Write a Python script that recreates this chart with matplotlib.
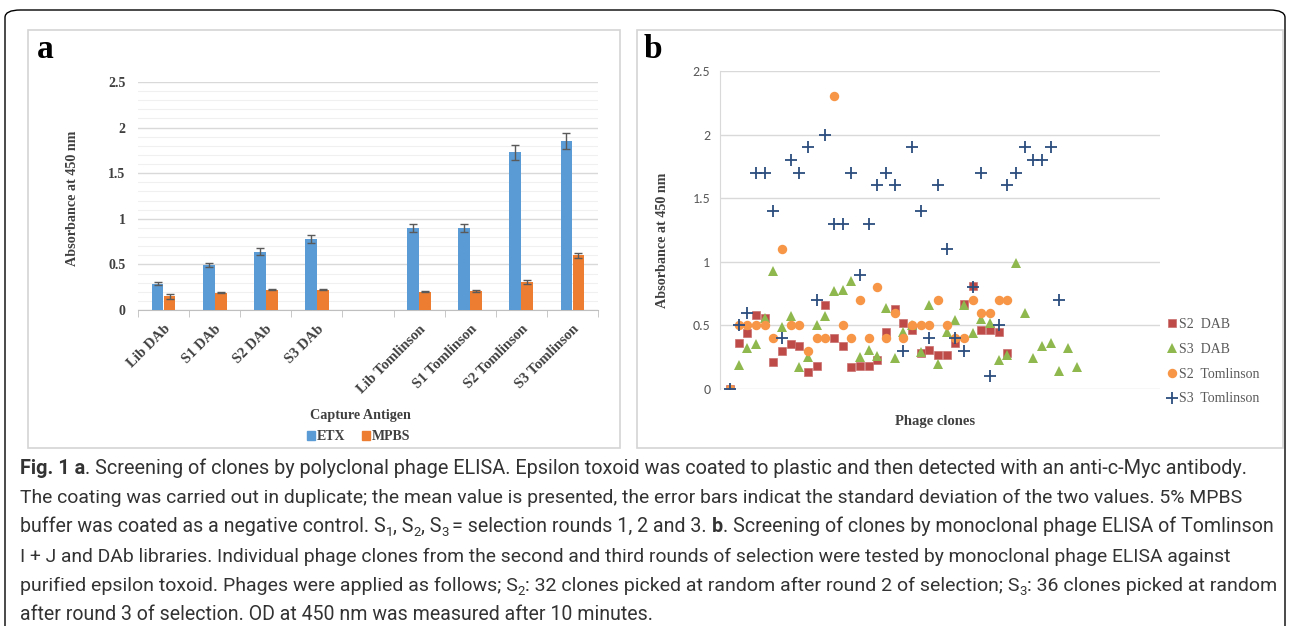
import numpy as np
import matplotlib
matplotlib.use('Agg')
import matplotlib.pyplot as plt
from matplotlib.patches import Rectangle, FancyBboxPatch, Patch
from matplotlib.ticker import FuncFormatter, MultipleLocator
from matplotlib import font_manager

W, H = 1290, 626


def have_font(name):
    try:
        font_manager.findfont(name, fallback_to_default=False)
        return True
    except Exception:
        return False


SERIF = 'Liberation Serif'
TICK_SANS = 'Carlito' if have_font('Carlito') else 'Liberation Sans'
CAP_FONT = 'Liberation Sans Narrow' if have_font('Liberation Sans Narrow') else 'Roboto'

# ---- panel a data
categories = ['Lib DAb', 'S1 DAb', 'S2 DAb', 'S3 DAb', '',
              'Lib Tomlinson', 'S1 Tomlinson', 'S2 Tomlinson', 'S3 Tomlinson']
etx = [0.29, 0.49, 0.64, 0.78, np.nan, 0.90, 0.90, 1.73, 1.85]
etx_err = [0.02, 0.02, 0.035, 0.045, np.nan, 0.045, 0.045, 0.08, 0.09]
mpbs = [0.15, 0.19, 0.22, 0.22, np.nan, 0.20, 0.21, 0.31, 0.60]
mpbs_err = [0.025, 0.005, 0.005, 0.005, np.nan, 0.005, 0.01, 0.02, 0.03]

# ---- panel b data (clone index = position in list)
s2_dab = [0, 0.36, 0.44, 0.58, 0.56, 0.21, 0.30, 0.35, 0.34, 0.13, 0.18,
          0.66, 0.40, 0.34, 0.17, 0.18, 0.18, 0.23, 0.45, 0.63, 0.52,
          0.46, 0.28, 0.31, 0.27, 0.27, 0.36, 0.67, 0.81, 0.46, 0.46,
          0.45, 0.28]
s3_dab = [0, 0.19, 0.32, 0.35, 0.56, 0.93, 0.49, 0.57, 0.17, 0.25, 0.50,
          0.57, 0.77, 0.78, 0.85, 0.25, 0.31, 0.26, 0.64, 0.24, 0.45,
          0.50, 0.29, 0.66, 0.20, 0.45, 0.54, 0.66, 0.44, 0.55, 0.52,
          0.23, 0.27, 0.99, 0.60, 0.24, 0.34, 0.36, 0.14, 0.32, 0.17]
s2_tom = [0, 0.5, 0.5, 0.5, 0.5, 0.4, 1.1, 0.5, 0.5, 0.3, 0.4,
          0.4, 2.3, 0.5, 0.4, 0.7, 0.4, 0.8, 0.4, 0.6, 0.4,
          0.5, 0.5, 0.5, 0.7, 0.5, 0.4, 0.4, 0.7, 0.6, 0.6,
          0.7, 0.7]
s3_tom = [0, 0.5, 0.6, 1.7, 1.7, 1.4, 0.4, 1.8, 1.7, 1.9, 0.7,
          2.0, 1.3, 1.3, 1.7, 0.9, 1.3, 1.6, 1.7, 1.6, 0.3,
          1.9, 1.4, 0.4, 1.6, 1.1, 0.4, 0.3, 0.8, 1.7, 0.1,
          0.5, 1.6, 1.7, 1.9, 1.8, 1.8, 1.9, 0.7]


def fx(x):
    return x / W


def fy(y):
    return 1 - y / H


fig = plt.figure(figsize=(W / 100, H / 100), dpi=100)
fig.patch.set_facecolor('white')

# outer rounded border and panel frames
fig.patches.append(FancyBboxPatch((fx(5), fy(680)), fx(1280), (680 - 10) / H,
                                  boxstyle='round,pad=0,rounding_size=0.012',
                                  transform=fig.transFigure, fill=False,
                                  edgecolor='black', lw=1.0))
for (x0, x1) in [(28, 620), (637, 1283)]:
    fig.patches.append(Rectangle((fx(x0), fy(448)), fx(x1 - x0), (448 - 30) / H,
                                 transform=fig.transFigure, fill=False,
                                 edgecolor='#D4D4D4', lw=1.2))

# ================= panel a =================
ax = fig.add_axes([fx(138), fy(310), (598 - 138) / W, (310 - 82) / H])
x = np.arange(len(categories))
bw = 0.23
ax.bar(x - 0.118, etx, bw, color='#5B9BD5', zorder=3)
ax.bar(x + 0.118, mpbs, bw, color='#ED7D31', zorder=3)
ax.errorbar(x - 0.118, etx, yerr=etx_err, fmt='none', ecolor='#5A5A5A',
            elinewidth=1, capsize=3, capthick=1, zorder=4)
ax.errorbar(x + 0.118, mpbs, yerr=mpbs_err, fmt='none', ecolor='#5A5A5A',
            elinewidth=1, capsize=3, capthick=1, zorder=4)
ax.set_xlim(-0.5, len(categories) - 0.5)
ax.set_ylim(0, 2.5)
ax.yaxis.set_major_locator(MultipleLocator(0.5))
ax.yaxis.set_minor_locator(MultipleLocator(0.1))
ax.yaxis.set_major_formatter(FuncFormatter(lambda v, p: '%g' % v))
ax.grid(which='major', axis='y', color='#D9D9D9', lw=1.0, zorder=0)
ax.grid(which='minor', axis='y', color='#F0F0F0', lw=0.8, zorder=0)
ax.set_axisbelow(True)
for s in ['top', 'right', 'left']:
    ax.spines[s].set_visible(False)
ax.spines['bottom'].set_color('#BFBFBF')
ax.set_xticks(x)
ax.set_xticks(np.arange(-0.5, len(categories)), minor=True)
ax.tick_params(axis='x', which='major', length=0, pad=9)
ax.tick_params(axis='x', which='minor', length=5, color='#BFBFBF')
ax.tick_params(axis='y', which='both', length=0, pad=9)
ax.set_xticklabels(categories, rotation=45, ha='right', va='top',
                   rotation_mode='anchor', family=SERIF, fontweight='bold',
                   fontsize=10.5, color='#404040')
for lab in ax.get_yticklabels():
    lab.set_family(SERIF)
    lab.set_fontweight('bold')
    lab.set_fontsize(10)
    lab.set_color('#404040')

fig.text(fx(72), fy(198), 'Absorbance at 450 nm', rotation=90, ha='center',
         va='center', family=SERIF, fontweight='bold', fontsize=10.2, color='#404040')
fig.text(fx(360), fy(416), 'Capture Antigen', ha='center', va='center',
         family=SERIF, fontweight='bold', fontsize=10.2, color='#404040')
fig.legend([Patch(color='#5B9BD5'), Patch(color='#ED7D31')], ['ETX', 'MPBS'],
           loc='center', bbox_to_anchor=(fx(359), fy(437)), ncol=2, frameon=False,
           handlelength=0.55, handleheight=0.55, handletextpad=0.15,
           columnspacing=1.2, borderpad=0,
           prop={'family': SERIF, 'weight': 'bold', 'size': 10},
           labelcolor='#404040')
fig.text(fx(37), fy(50), 'a', ha='left', va='center', family=SERIF,
         fontweight='bold', fontsize=24, color='black')

# ================= panel b =================
bx = fig.add_axes([fx(720), fy(389), (1160 - 720) / W, (389 - 71) / H])
px_per = 8.667
bx.set_xlim(-10 / px_per, (1160 - 730) / px_per)
bx.set_ylim(0, 2.5)
bx.plot(np.arange(len(s2_dab)), s2_dab, 's', color='#BE4B48', ms=6.3,
        mec='#C9706D', mew=0.5, zorder=3, label='S2  DAB')
bx.plot(np.arange(len(s3_dab)), s3_dab, '^', color='#8FB84F', ms=7.3,
        mew=0, zorder=4, label='S3  DAB')
bx.plot(np.arange(len(s2_tom)), s2_tom, 'o', color='#F79646', ms=6.8,
        mew=0, zorder=5, label='S2  Tomlinson')
bx.plot(np.arange(len(s3_tom)), s3_tom, '+', color='#2C4D7E', ms=9,
        mew=1.3, zorder=6, label='S3  Tomlinson')
bx.yaxis.set_major_locator(MultipleLocator(0.5))
bx.yaxis.set_major_formatter(FuncFormatter(lambda v, p: '%g' % v))
bx.grid(axis='y', color='#D9D9D9', lw=1.0, zorder=0)
bx.set_axisbelow(True)
for s in ['top', 'right', 'bottom']:
    bx.spines[s].set_visible(False)
bx.spines['left'].set_color('#D9D9D9')
bx.set_xticks([])
bx.tick_params(axis='y', length=0, pad=7, labelsize=10, labelcolor='#595959')
for lab in bx.get_yticklabels():
    lab.set_family(TICK_SANS)

fig.text(fx(662), fy(240), 'Absorbance at 450 nm', rotation=90, ha='center',
         va='center', family=SERIF, fontweight='bold', fontsize=10.2, color='#404040')
fig.text(fx(935), fy(421), 'Phage clones', ha='center', va='center',
         family=SERIF, fontweight='bold', fontsize=10.5, color='#404040')
h, l = bx.get_legend_handles_labels()
fig.legend(h, l, loc='upper left', bbox_to_anchor=(fx(1160), fy(311)),
           frameon=False, handlelength=0.7, handletextpad=0.15, labelspacing=0.85,
           borderpad=0, prop={'family': SERIF, 'size': 10}, labelcolor='#595959')
fig.text(fx(644), fy(50), 'b', ha='left', va='center', family=SERIF,
         fontweight='bold', fontsize=24, color='black')

# ================= caption =================
cap_lines = [
    [('Fig. 1 a', 'b'), ('. Screening of clones by polyclonal phage ELISA. Epsilon toxoid was coated to plastic and then detected with an anti-c-Myc antibody.', 'n')],
    [('The coating was carried out in duplicate; the mean value is presented, the error bars indicat the standard deviation of the two values. 5% MPBS', 'n')],
    [('buffer was coated as a negative control. S', 'n'), ('1', 's'), (', S', 'n'), ('2', 's'),
     (', S', 'n'), ('3 ', 's'), ('= selection rounds 1, 2 and 3. ', 'n'), ('b', 'b'),
     ('. Screening of clones by monoclonal phage ELISA of Tomlinson', 'n')],
    [('I + J and DAb libraries. Individual phage clones from the second and third rounds of selection were tested by monoclonal phage ELISA against', 'n')],
    [('purified epsilon toxoid. Phages were applied as follows; S', 'n'), ('2', 's'),
     (': 32 clones picked at random after round 2 of selection; S', 'n'), ('3', 's'),
     (': 36 clones picked at random', 'n')],
    [('after round 3 of selection. OD at 450 nm was measured after 10 minutes.', 'n')],
]
# right end of each caption line in the reference (pixels)
cap_right = [1248, 1244, 1272, 1228, 1274, 652]

renderer = fig.canvas.get_renderer()


def props(style, size):
    return dict(family=CAP_FONT, fontsize=size * 0.68 if style == 's' else size,
                fontweight='bold' if style == 'b' else 'normal', color='#333333')


def measure(txt, style, size):
    t1 = fig.text(0, 0, txt + '|', **props(style, size))
    t2 = fig.text(0, 0, '|', **props(style, size))
    w = t1.get_window_extent(renderer).width - t2.get_window_extent(renderer).width
    t1.remove()
    t2.remove()
    return w


base = 10.0
y0, dy = 474, 29.2
for i, runs in enumerate(cap_lines):
    wl = sum(measure(t, s, base) for t, s in runs)
    size = base * (cap_right[i] - 20) / wl
    xpos = 20
    yb = y0 + i * dy
    for txt, style in runs:
        off = 4 if style == 's' else 0
        fig.text(fx(xpos), fy(yb + off), txt, va='baseline', ha='left',
                 **props(style, size))
        xpos += measure(txt, style, size)

fig.savefig('out.png', dpi=100)
